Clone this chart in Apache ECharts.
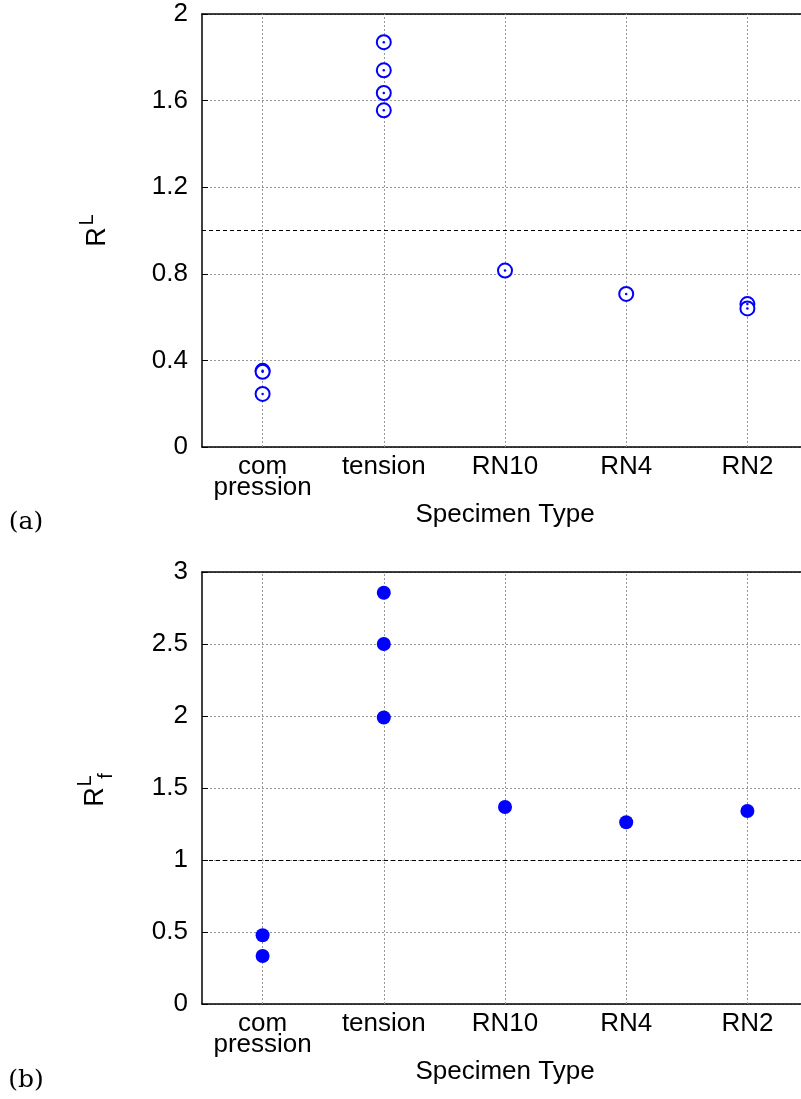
<!DOCTYPE html>
<html>
<head>
<meta charset="utf-8">
<script src="https://cdn.jsdelivr.net/npm/echarts@6/dist/echarts.min.js"></script>
<style>
  html, body { margin: 0; padding: 0; background: #fff; overflow: hidden; }
  #chart { width: 812px; height: 1099px; }
</style>
</head>
<body>
<div id="chart"></div>
<script>
// 试件类型
const categories = ['com\npression', 'tension', 'RN10', 'RN4', 'RN2']
// (a) R^L
const rlIndex = [0, 0, 0, 1, 1, 1, 1, 2, 3, 4, 4]
const rlValues = [0.352, 0.347, 0.245, 1.87, 1.74, 1.635, 1.555, 0.815, 0.707, 0.66, 0.64]
const rlTicks = [0, 0.4, 0.8, 1.2, 1.6, 2]
// (b) R^L_f
const rfIndex = [0, 0, 1, 1, 1, 2, 3, 4]
const rfValues = [0.477, 0.333, 2.856, 2.5, 1.99, 1.368, 1.262, 1.34]
const rfTicks = [0, 0.5, 1, 1.5, 2, 2.5, 3]
const refLine = 1

const FONT = 'Liberation Sans'
const BLUE = '#0000ff'

const pairs = (idx, vals) => idx.map((c, i) => [c, vals[i]])

const gridLine = { color: '#999', type: [2, 2], width: 1 }

function xAxes (gridIndex) {
  return [
    {
      type: 'category',
      gridIndex: gridIndex,
      data: categories,
      position: 'bottom',
      boundaryGap: true,
      axisLine: { lineStyle: { color: '#000', width: 1.5 } },
      axisTick: { inside: true, alignWithLabel: true, length: 6, lineStyle: { color: '#000' } },
      axisLabel: { interval: 0, color: '#000', fontFamily: FONT, fontSize: 26, lineHeight: 21, margin: 9 },
      splitLine: { show: false },
      name: 'Specimen Type',
      nameLocation: 'middle',
      nameGap: 54,
      nameTextStyle: { color: '#000', fontFamily: FONT, fontSize: 26 }
    },
    {
      type: 'category',
      gridIndex: gridIndex,
      data: categories,
      position: 'top',
      boundaryGap: true,
      axisLine: { lineStyle: { color: '#000', width: 1.5 } },
      axisTick: { inside: true, alignWithLabel: true, length: 6, lineStyle: { color: '#000' } },
      axisLabel: { show: false },
      splitLine: { show: false }
    }
  ]
}

function yAxis (gridIndex, ticks) {
  return {
    type: 'value',
    gridIndex: gridIndex,
    min: ticks[0],
    max: ticks[ticks.length - 1],
    interval: ticks[1] - ticks[0],
    axisLine: { show: true, lineStyle: { color: '#000', width: 1.5 } },
    axisTick: { show: true, inside: true, length: 6, lineStyle: { color: '#000' } },
    axisLabel: { color: '#000', fontFamily: FONT, fontSize: 26, margin: 14 },
    splitLine: { show: true, lineStyle: gridLine }
  }
}

// 网格竖线 + y=1 参考虚线
function guideSeries (xi, yi) {
  return {
    type: 'scatter',
    xAxisIndex: xi,
    yAxisIndex: yi,
    data: [],
    z: 1,
    silent: true,
    markLine: {
      silent: true,
      symbol: 'none',
      animation: false,
      label: { show: false },
      data: categories.map((c, i) => ({ xAxis: i, lineStyle: gridLine }))
        .concat([{ yAxis: refLine, lineStyle: { color: '#000', type: [4, 3], width: 1 } }])
    }
  }
}

const chart = echarts.init(document.getElementById('chart'), null, { renderer: 'canvas' })

chart.setOption({
  animation: false,
  backgroundColor: '#fff',
  grid: [
    { left: 202, top: 14, width: 606, height: 433, show: false },
    { left: 202, top: 572, width: 606, height: 432, show: false }
  ],
  xAxis: xAxes(0).concat(xAxes(1)),
  yAxis: [yAxis(0, rlTicks), yAxis(1, rfTicks)],
  series: [
    guideSeries(0, 0),
    {
      type: 'scatter',
      xAxisIndex: 0,
      yAxisIndex: 0,
      z: 5,
      symbol: 'emptyCircle',
      symbolSize: 14,
      itemStyle: { color: BLUE, borderColor: BLUE, borderWidth: 2.4, opacity: 1 },
      data: pairs(rlIndex, rlValues)
    },
    {
      type: 'scatter',
      xAxisIndex: 0,
      yAxisIndex: 0,
      z: 6,
      symbol: 'circle',
      symbolSize: 2.5,
      itemStyle: { color: BLUE, opacity: 1 },
      data: pairs(rlIndex, rlValues)
    },
    guideSeries(2, 1),
    {
      type: 'scatter',
      xAxisIndex: 2,
      yAxisIndex: 1,
      z: 5,
      symbol: 'circle',
      symbolSize: 14,
      itemStyle: { color: BLUE, opacity: 1 },
      data: pairs(rfIndex, rfValues)
    }
  ],
  graphic: [
    { type: 'text', x: 98, y: 237, rotation: Math.PI / 2, style: { text: 'R', font: '27px ' + FONT, fill: '#000', align: 'center', verticalAlign: 'middle' } },
    { type: 'text', x: 87, y: 220, rotation: Math.PI / 2, style: { text: 'L', font: '20px ' + FONT, fill: '#000', align: 'center', verticalAlign: 'middle' } },
    { type: 'text', x: 96, y: 797, rotation: Math.PI / 2, style: { text: 'R', font: '27px ' + FONT, fill: '#000', align: 'center', verticalAlign: 'middle' } },
    { type: 'text', x: 85, y: 781, rotation: Math.PI / 2, style: { text: 'L', font: '20px ' + FONT, fill: '#000', align: 'center', verticalAlign: 'middle' } },
    { type: 'text', x: 106, y: 776, rotation: Math.PI / 2, style: { text: 'f', font: '20px ' + FONT, fill: '#000', align: 'center', verticalAlign: 'middle' } },
    { type: 'text', x: 26, y: 522, style: { text: '(a)', font: '25px "DejaVu Serif"', fill: '#000', align: 'center', verticalAlign: 'middle' } },
    { type: 'text', x: 26, y: 1080, style: { text: '(b)', font: '25px "DejaVu Serif"', fill: '#000', align: 'center', verticalAlign: 'middle' } }
  ]
})
</script>
</body>
</html>
